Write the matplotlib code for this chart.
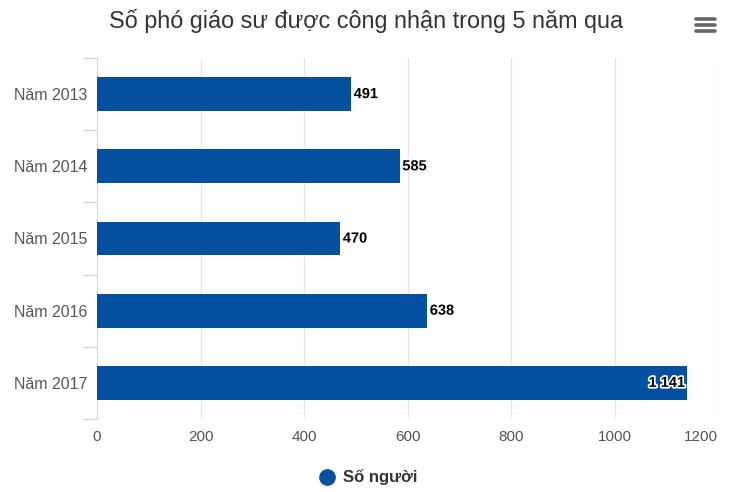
import matplotlib.pyplot as plt
import matplotlib.patheffects as pe
from matplotlib.lines import Line2D

plt.rcParams['font.family'] = ['Liberation Sans', 'DejaVu Sans']

categories = ['Năm 2013', 'Năm 2014', 'Năm 2015', 'Năm 2016', 'Năm 2017']
values = [491, 585, 470, 638, 1141]
x_ticks = [0, 200, 400, 600, 800, 1000, 1200]

bar_color = '#0650a0'

fig = plt.figure(figsize=(7.3, 4.92), dpi=100)
ax = fig.add_axes([0.1329, 0.1484, 0.8507, 0.7337])

ypos = list(range(len(categories)))
ax.barh(ypos, values, height=0.47, color=bar_color, zorder=3)
ax.set_ylim(len(categories) - 0.5, -0.5)
ax.set_xlim(0, 1200)

# data labels
for y, v in zip(ypos, values):
    label = f'{v:,}'.replace(',', ' ')
    if v > 1000:
        ax.text(v - 5, y, label, ha='right', va='center', fontsize=10.5,
                fontweight='bold', color='black', zorder=4,
                path_effects=[pe.withStroke(linewidth=2.5, foreground='white')])
    else:
        ax.text(v + 5, y, label, ha='left', va='center', fontsize=10.5,
                fontweight='bold', color='black', zorder=4,
                path_effects=[pe.withStroke(linewidth=2.5, foreground='white')])

ax.set_yticks(ypos)
ax.set_yticklabels(categories, fontsize=11.5, color='#555555')
ax.set_xticks(x_ticks)
xl = ax.set_xticklabels([str(t) for t in x_ticks], fontsize=11, color='#555555')
xl[-1].set_horizontalalignment('right')

# category ticks on boundaries
ax.set_yticks([i - 0.5 for i in range(len(categories) + 1)], minor=True)
ax.tick_params(axis='y', which='major', length=0, pad=7)
ax.tick_params(axis='y', which='minor', length=10, color='#d8d8d8', width=1)
ax.tick_params(axis='x', length=0, pad=8)

ax.grid(axis='x', color='#e6e6e6', linewidth=1, zorder=0)
for s in ['top', 'right', 'bottom']:
    ax.spines[s].set_visible(False)
ax.spines['left'].set_color('#d8d8d8')

fig.text(0.502, 0.958, 'Số phó giáo sư được công nhận trong 5 năm qua',
         ha='center', va='center', fontsize=16.8, color='#333333')

# menu icon
for yy in [0.962, 0.950, 0.938]:
    fig.add_artist(Line2D([0.953, 0.979], [yy, yy], transform=fig.transFigure,
                          color='#666666', linewidth=2.6, solid_capstyle='round'))

# legend
fig.add_artist(Line2D([0.448], [0.030], transform=fig.transFigure, marker='o',
                      markersize=11, color=bar_color, linestyle='none'))
fig.text(0.47, 0.030, 'Số người', ha='left', va='center', fontsize=12,
         fontweight='bold', color='#333333')

fig.savefig('out.png', dpi=100)
